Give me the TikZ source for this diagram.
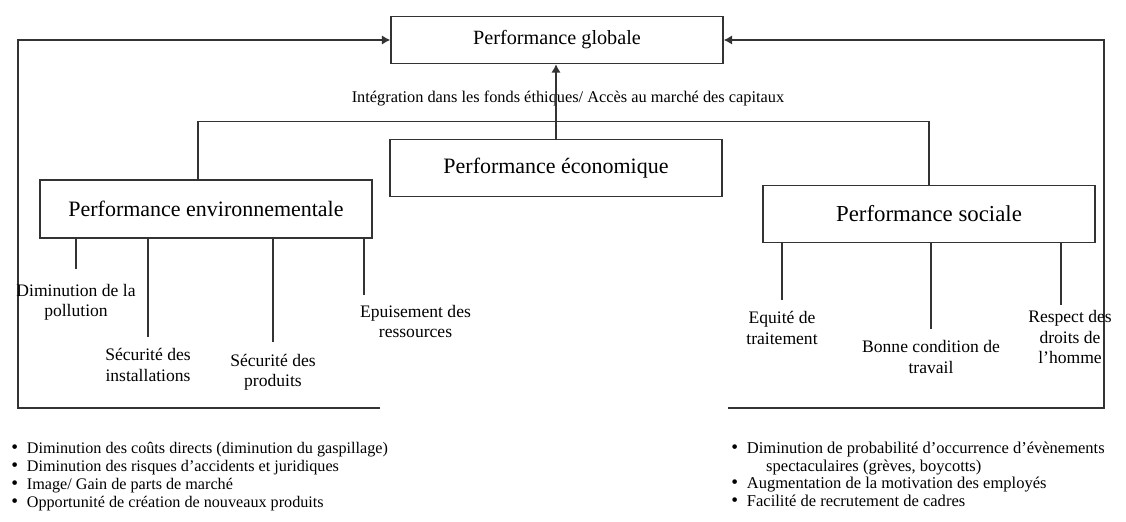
\documentclass[tikz,border=0pt]{standalone}
\usepackage{fontspec}
\setmainfont{Liberation Serif}
\usetikzlibrary{arrows.meta}

\newcommand{\bigdot}{{\fontsize{11}{10}\selectfont\textbullet}}

\begin{document}
\begin{tikzpicture}[x=0.2mm,y=-0.2mm,
    box/.style={draw=black!80,line width=0.8pt,minimum width=66.4mm,inner sep=0pt,font=\fontsize{12.5}{14}\selectfont},
    lbl/.style={align=center,inner sep=1pt,font=\fontsize{10}{11.5}\selectfont},
    link/.style={draw=black!80,line width=0.8pt},
    arr/.style={link,-{Latex[length=1.7mm,width=1.9mm]}}]
  \useasboundingbox (0,0) rectangle (1126,522);
  % Boxes
  \node[box,minimum height=9.4mm,font=\fontsize{11.5}{13}\selectfont] (glob) at (557,40) {Performance globale};
  \node[box,minimum height=11.4mm] (econ) at (556,168) {Performance économique};
  \node[box,minimum height=11.6mm] (env) at (206,209) {Performance environnementale};
  \node[box,minimum height=11.4mm,font=\fontsize{13}{14}\selectfont] (soc) at (929,214) {Performance sociale};
  % Middle links
  \node[font=\fontsize{9.3}{11}\selectfont,inner sep=1pt] (integ) at (568,99) {Intégration dans les fonds éthiques/ Accès au marché des capitaux};
  \draw[link] (env.north) ++(-8,0) coordinate (et) -- ++(0,-58) -| (soc.north);
  \draw[arr] (econ.north) -- (econ.north |- glob.south);
  % Loops back to the top box
  \coordinate (lend) at (380,408);
  \coordinate (rend) at (728,408);
  \draw[arr] (lend) -- (18,408) |- (glob.west);
  \draw[arr] (rend) -- (1104,408) |- (glob.east);
  % Environment effects
  \node[lbl] (poll) at (76,302) {Diminution de la\\pollution};
  \node[lbl] (inst) at (148,365) {Sécurité des\\installations};
  \node[lbl] (prod) at (273,372) {Sécurité des\\produits};
  \node[lbl,anchor=north west] (ress) at (358,303) {Epuisement des\\ressources};
  \draw[link,shorten >=2.6mm] (env.south -| poll.north) -- (poll.north);
  \draw[link,shorten >=2mm] (env.south -| inst.north) -- (inst.north);
  \draw[link,shorten >=2mm] (env.south -| prod.north) -- (prod.north);
  \draw[link] (ress.north west) ++(6,-8) coordinate (rt1) (rt1 |- env.south) -- (rt1);
  % Social effects
  \node[lbl] (equi) at (782,328) {Equité de\\traitement};
  \node[lbl] (cond) at (931,357) {Bonne condition de\\travail};
  \node[lbl] (droit) at (1070,337) {Respect des\\droits de\\l’homme};
  \draw[link,shorten >=2mm] (soc.south -| equi.north) -- (equi.north);
  \draw[link,shorten >=2mm] (soc.south -| cond.north) -- (cond.north);
  \draw[link] (droit.north) ++(-9,-4) coordinate (rt2) (rt2 |- soc.south) -- (rt2);
  % Gains
  \node[anchor=north west,inner sep=0pt,font=\fontsize{9.2}{10.4}\selectfont] (gainl) at (11,440)
    {\begin{tabular}{@{}l@{\hspace{5pt}}l@{}}
      \bigdot & Diminution des coûts directs (diminution du gaspillage)\\
      \bigdot & Diminution des risques d’accidents et juridiques\\
      \bigdot & Image/ Gain de parts de marché\\
      \bigdot & Opportunité de création de nouveaux produits
    \end{tabular}};
  \node[anchor=north west,inner sep=0pt,font=\fontsize{9.4}{10}\selectfont] (gainr) at (731,441)
    {\begin{tabular}{@{}l@{\hspace{5pt}}l@{}}
      \bigdot & Diminution de probabilité d’occurrence d’évènements\\
      & \hspace{11pt}spectaculaires (grèves, boycotts)\\
      \bigdot & Augmentation de la motivation des employés\\
      \bigdot & Facilité de recrutement de cadres
    \end{tabular}};
\end{tikzpicture}
\end{document}
